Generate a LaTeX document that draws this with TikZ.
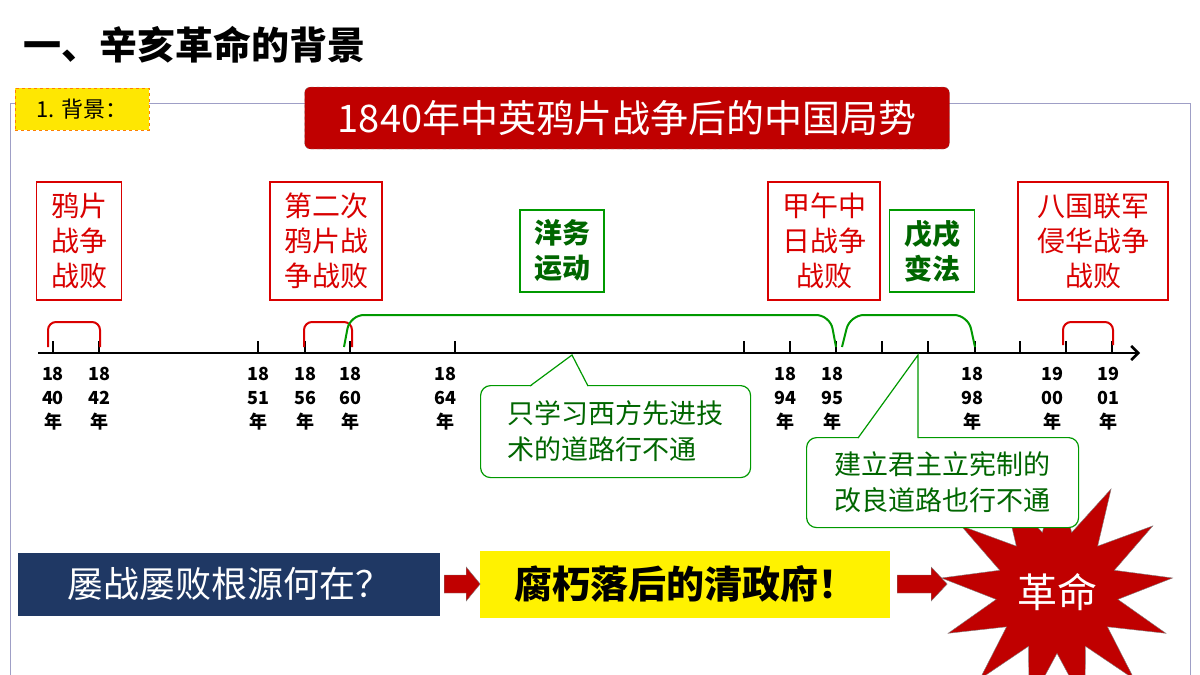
\documentclass[tikz,border=0pt]{standalone}
\usepackage{fontspec}
\setmainfont{Noto Sans CJK SC}
\usepackage{tikz}
\usetikzlibrary{shapes.geometric,arrows.meta}
\colorlet{warRed}{red!85!black}
\colorlet{reformGreen}{green!60!black}
\definecolor{bannerRed}{HTML}{C00000}
\definecolor{navyBox}{HTML}{1F3864}
\begin{document}
\begin{tikzpicture}[
  x=1pt, y=-1pt,
  warbox/.style={draw=warRed, line width=1.5pt, text=warRed, align=center,
    font=\fontsize{28}{35}\selectfont, minimum height=118pt, inner sep=2pt},
  reformbox/.style={draw=reformGreen, line width=1.5pt, text=green!40!black, align=center,
    font=\bfseries\fontsize{28}{35}\selectfont, minimum height=82pt, inner sep=2pt},
  calloutbox/.style={draw=reformGreen, line width=1.2pt, rounded corners=10pt, fill=white,
    text=green!40!black, align=left, font=\fontsize{27}{36}\selectfont, inner sep=6pt},
  yearlabel/.style={font=\bfseries\fontsize{18}{24}\selectfont, align=center, anchor=north},
  redbrace/.style={warRed, line width=2pt, rounded corners=8pt},
  greenbrace/.style={reformGreen, line width=2pt, rounded corners=14pt},
  blockarrow/.style={fill=bannerRed, draw=black!50}
]
\useasboundingbox (0,0) rectangle (1200,675);
\fill[white] (0,0) rectangle (1200,675);
\draw[blue!25!gray!60, line width=1pt] (10,103) rectangle (1190,676);

% title
\node[anchor=west, font=\bfseries\fontsize{38}{44}\selectfont] (title) at (20,45) {一、辛亥革命的背景};
\node[draw=orange, dashed, fill=yellow!90!orange, anchor=north west, minimum width=134pt,
  minimum height=42pt, font=\fontsize{22}{26}\selectfont] (bg) at (15,88) {1. 背景：};
\node[draw=gray, dashed, fill=bannerRed, rounded corners=6pt, text=white, minimum width=645pt,
  minimum height=62pt, font=\fontsize{38}{44}\selectfont] (banner) at (627,118) {1840年中英鸦片战争后的中国局势};

% event boxes
\node[warbox, minimum width=85pt] (w1) at (79,241) {鸦片\\战争\\战败};
\node[warbox, minimum width=112pt] (w2) at (326,241) {第二次\\鸦片战\\争战败};
\node[warbox, minimum width=112pt] (w3) at (824,241) {甲午中\\日战争\\战败};
\node[warbox, minimum width=150pt] (w4) at (1093,241) {八国联军\\侵华战争\\战败};
\node[reformbox, minimum width=84pt] (r1) at (562,251) {洋务\\运动};
\node[reformbox, minimum width=85pt] (r2) at (932,251) {戊戌\\变法};

% timeline
\coordinate (axisL) at (38,353);
\coordinate (axisR) at (1140,353);
\draw[line width=2.5pt, -{Straight Barb[length=7pt]}] (axisL) -- (axisR);
\foreach \x in {53,99,258,305,350,455,744,790,836,882,928,975,1020,1066,1112}
  \draw[line width=1.5pt] (\x,341) -- (\x,353);
\foreach \x/\y in {53/40,99/42,258/51,305/56,350/60,445/64,785/94,832/95,972/98}
  \node[yearlabel] (y\y) at (\x,364) {18\\\y\\年};
\node[yearlabel] (y00) at (1052,364) {19\\00\\年};
\node[yearlabel] (y01) at (1108,364) {19\\01\\年};

% brackets
\draw[redbrace] (48,347) -- (48,322) -- (100,322) -- (100,347);
\draw[redbrace] (304,347) -- (304,322) -- (352,322) -- (352,347);
\draw[redbrace] (1063,345) -- (1063,322) -- (1113,322) -- (1113,345);
\draw[greenbrace] (344,347) -- (350,315) -- (830,315) -- (836,347);
\draw[greenbrace] (842,347) -- (850,315) -- (968,315) -- (975,347);

% star behind the second callout
\node[star, star points=13, star point ratio=1.9, fill=bannerRed, draw=black!50,
  minimum size=180pt, text=white, font=\fontsize{40}{46}\selectfont] (rev) at (1057,592) {革命};

% callouts
\node[calloutbox, anchor=north west, minimum width=270pt, minimum height=92pt] (c1) at (480,385)
  {只学习西方先进技\\术的道路行不通};
\coordinate (p1) at (572,355);
\fill[white] (530,387) -- (p1) -- (588,387) -- cycle;
\draw[reformGreen, line width=1.2pt] (530,386) -- (p1) -- (588,386);
\node[calloutbox, anchor=north west, minimum width=272pt, minimum height=90pt] (c2) at (806,437)
  {建立君主立宪制的\\改良道路也行不通};
\coordinate (p2) at (918,355);
\fill[white] (858,439) -- (p2) -- (918,439) -- cycle;
\draw[reformGreen, line width=1.2pt] (858,438) -- (p2) -- (918,438);

% bottom
\node[fill=navyBox, text=white, minimum width=422pt, minimum height=63pt,
  font=\fontsize{36}{42}\selectfont] (q) at (229,584) {屡战屡败根源何在？};
\node[fill=yellow, minimum width=410pt, minimum height=67pt,
  font=\bfseries\fontsize{38}{44}\selectfont] (ans) at (685,584) {腐朽落后的清政府！};
\draw[blockarrow] (q.east) ++(4,-9) -- ++(22,0) -- ++(0,-8) -- ++(14,17) -- ++(-14,17) -- ++(0,-8) -- ++(-22,0) -- cycle;
\draw[blockarrow] (ans.east) ++(7,-9) -- ++(34,0) -- ++(0,-8) -- ++(16,17) -- ++(-16,17) -- ++(0,-8) -- ++(-34,0) -- cycle;
\end{tikzpicture}
\end{document}
